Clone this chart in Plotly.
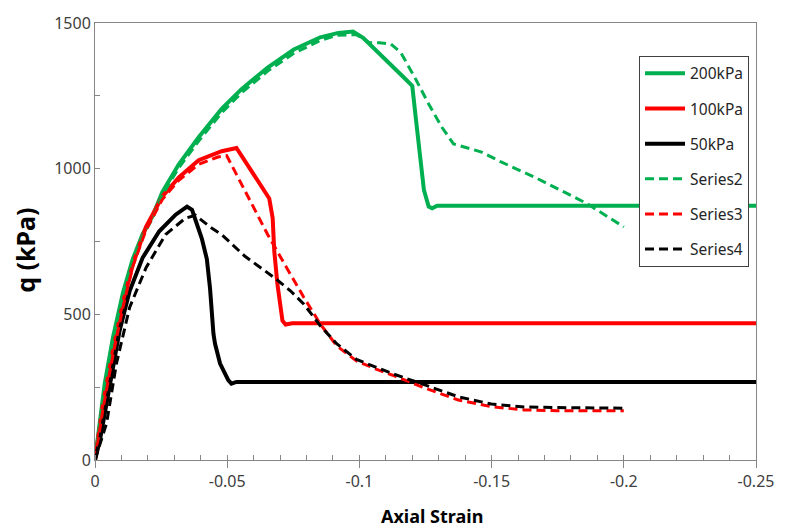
import plotly.graph_objects as go

# ---- data (axial strain, q in kPa) ----
x_200 = [0, -0.002, -0.0037, -0.0068, -0.0106, -0.0143, -0.018, -0.0218, -0.0255, -0.0317, -0.0392,
         -0.0479, -0.0554, -0.0653, -0.0752, -0.0852, -0.092, -0.0976, -0.1014, -0.1175, -0.1200,
         -0.1213, -0.1231, -0.1244, -0.1262, -0.1275, -0.1294, -0.25]
q_200 = [0, 135, 263, 421, 575, 690, 775, 838, 920, 1015, 1108,
         1205, 1273, 1347, 1409, 1451, 1466, 1471, 1449, 1307, 1284,
         1176, 1029, 927, 870, 864, 873, 873]

x_100 = [0, -0.0031, -0.0068, -0.0106, -0.0143, -0.0193, -0.0255, -0.0317, -0.0392, -0.0479,
         -0.0535, -0.0578, -0.0628, -0.0659, -0.0672, -0.0678, -0.069, -0.0709, -0.0721, -0.0746, -0.25]
q_100 = [0, 195, 376, 540, 671, 800, 905, 970, 1029, 1060,
         1071, 1012, 944, 898, 830, 717, 603, 478, 465, 469, 469]

x_50 = [0, -0.0019, -0.0044, -0.0068, -0.0093, -0.0131, -0.018, -0.0243, -0.0305, -0.0348, -0.0367,
        -0.0404, -0.0423, -0.0435, -0.0441, -0.0448, -0.0454, -0.0473, -0.0504, -0.0516, -0.0535, -0.25]
q_50 = [0, 70, 195, 319, 444, 580, 694, 785, 842, 870, 859,
        760, 690, 590, 490, 433, 399, 331, 274, 262, 268, 268]

x_s2 = [0, -0.002, -0.0037, -0.0068, -0.0106, -0.0143, -0.018, -0.0218, -0.0255, -0.0317, -0.0392,
        -0.0479, -0.0554, -0.0653, -0.0752, -0.0852, -0.0914, -0.0989, -0.1038, -0.1076, -0.1119,
        -0.1157, -0.1213, -0.1262, -0.1312, -0.1356, -0.1399, -0.1462, -0.1536, -0.166, -0.1785,
        -0.1859, -0.2]
q_s2 = [0, 130, 258, 415, 568, 682, 768, 830, 910, 1003, 1095,
        1192, 1260, 1335, 1396, 1440, 1458, 1460, 1432, 1432, 1428,
        1398, 1307, 1222, 1142, 1085, 1074, 1057, 1023, 972, 915,
        881, 800]

x_s3 = [0, -0.0031, -0.0068, -0.0106, -0.0143, -0.0193, -0.0255, -0.0317, -0.0392, -0.0465, -0.0498,
        -0.0616, -0.0653, -0.0728, -0.079, -0.0852, -0.0914, -0.0989, -0.1063, -0.1126,
        -0.125, -0.1374, -0.1499, -0.1623, -0.1748, -0.2]
q_s3 = [0, 180, 360, 525, 665, 790, 895, 960, 1015, 1040, 1045,
        836, 774, 655, 558, 467, 392, 340, 312, 291,
        246, 206, 183, 172, 169, 169]

x_s4 = [0, -0.0044, -0.0081, -0.0131, -0.0193, -0.0267, -0.0342, -0.038, -0.0441, -0.0479, -0.0566,
        -0.0678, -0.074, -0.079, -0.0852, -0.0914, -0.0989, -0.1063, -0.1126, -0.125, -0.1374,
        -0.1499, -0.1623, -0.1748, -0.2]
q_s4 = [0, 127, 331, 524, 660, 774, 830, 840, 796, 774, 700,
        626, 580, 535, 461, 399, 345, 319, 296, 257, 217,
        192, 182, 180, 178]

x_tickvals = [0, -0.05, -0.1, -0.15, -0.2, -0.25]
x_ticktext = ["0", "-0.05", "-0.1", "-0.15", "-0.2", "-0.25"]
y_tickvals = [0, 500, 1000, 1500]
y_ticktext = ["0", "500", "1000", "1500"]

GREEN = "#00B050"
RED = "#FF0000"
BLACK = "#000000"
AXIS = "#868686"
FONT = "Noto Sans"

series = [
    ("200kPa", x_200, q_200, GREEN, "solid", 4),
    ("100kPa", x_100, q_100, RED, "solid", 4),
    ("50kPa", x_50, q_50, BLACK, "solid", 4),
    ("Series2", x_s2, q_s2, GREEN, "9px,5px", 3),
    ("Series3", x_s3, q_s3, RED, "9px,5px", 3),
    ("Series4", x_s4, q_s4, BLACK, "9px,5px", 3),
]

fig = go.Figure()
for name, xs, ys, col, dash, w in series:
    fig.add_trace(go.Scatter(x=xs, y=ys, mode="lines", name=name, legendgroup=name,
                             line=dict(color=col, width=w, dash=dash)))

fig.update_layout(
    width=786, height=530,
    margin=dict(l=95, r=21, t=20, b=70),
    paper_bgcolor="white", plot_bgcolor="white",
    font=dict(family=FONT, size=16, color="#404040"),
    showlegend=True,
    legend=dict(x=0.823, y=0.925, xanchor="left", yanchor="top",
                bgcolor="white", bordercolor="#404040", borderwidth=1,
                font=dict(family=FONT, size=15.5, color="#262626"),
                tracegroupgap=12, itemwidth=40),
    xaxis=dict(range=[0, -0.25], tickmode="array", tickvals=x_tickvals, ticktext=x_ticktext,
               showgrid=False, zeroline=False, showline=True, linecolor=AXIS, linewidth=1,
               mirror=True, ticks="outside", ticklen=7, tickcolor=AXIS,
               tickfont=dict(family=FONT, size=16, color="#404040"),
               minor=dict(tickmode="linear", tick0=0, dtick=0.01, ticks="inside",
                          ticklen=5, tickcolor=AXIS, showgrid=False)),
    yaxis=dict(range=[0, 1500], tickmode="array", tickvals=y_tickvals, ticktext=y_ticktext,
               showgrid=False, zeroline=False, showline=True, linecolor=AXIS, linewidth=1,
               mirror=True, ticks="inside", ticklen=5, tickcolor=AXIS,
               tickfont=dict(family=FONT, size=16, color="#404040"),
               minor=dict(tickmode="linear", tick0=0, dtick=250, ticks="inside",
                          ticklen=5, tickcolor=AXIS, showgrid=False)),
    annotations=[
        dict(text="<b>Axial Strain</b>", xref="paper", yref="paper", x=0.51, y=-0.128,
             xanchor="center", yanchor="middle", showarrow=False,
             font=dict(family=FONT, size=18, color="#000000")),
        dict(text="<b>q (kPa)</b>", xref="paper", yref="paper", x=-0.105, y=0.48,
             xanchor="center", yanchor="middle", showarrow=False, textangle=-90,
             font=dict(family=FONT, size=25, color="#000000")),
    ],
)

fig.write_html("out.html")
